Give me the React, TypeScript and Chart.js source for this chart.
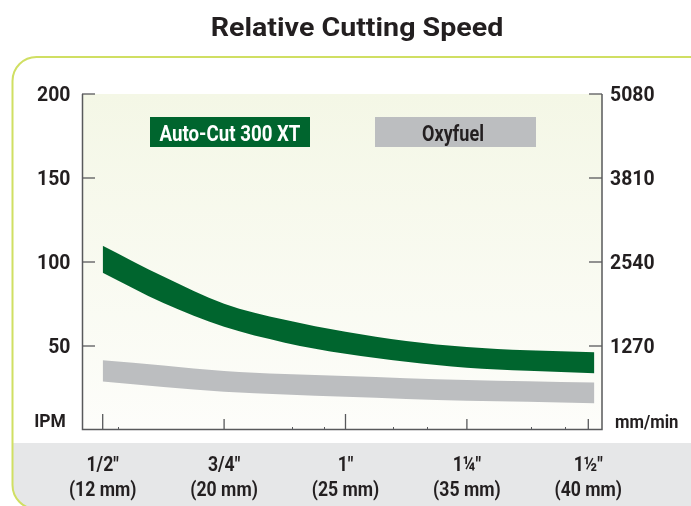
import React, { useEffect, useRef } from "react";
import { Chart, registerables } from "chart.js";

Chart.register(...registerables);

// ---------- data ----------
const chartTitle = "Relative Cutting Speed";
const categories = ['1/2"', '3/4"', '1"', '1¼"', '1½"'];
const categoriesMm = ["(12 mm)", "(20 mm)", "(25 mm)", "(35 mm)", "(40 mm)"];
const bandX = [0, 0.5, 1, 1.5, 2, 2.5, 3, 3.5, 4.05];
const autoCutUpper = [109.7, 91.3, 75.2, 65.6, 58.5, 53.0, 49.4, 47.4, 46.3];
const autoCutLower = [93.6, 75.6, 61.4, 52.0, 45.4, 40.6, 37.0, 35.2, 33.8];
const oxyfuelUpper = [41.5, 38.4, 35.1, 33.3, 32.1, 30.8, 29.8, 29.0, 28.2];
const oxyfuelLower = [28.8, 25.6, 22.8, 21.1, 19.8, 18.5, 17.4, 16.8, 15.9];
const ipmTicks = [50, 100, 150, 200];
const mmMinTicks = [1270, 2540, 3810, 5080];
const minorTickValues = [0.123, 1.558, 1.826, 2.392, 2.673, 3.53, 3.81];
const seriesNames = ["Auto-Cut 300 XT", "Oxyfuel"];
const leftUnit = "IPM";
const rightUnit = "mm/min";

// ---------- styles ----------
const GREEN = "#00652E";
const GREY = "#BCBEC0";
const AXIS = "#58595B";
const TEXT = "#231F20";
const FONT = "Roboto, 'Liberation Sans', sans-serif";
const majorTickLen = [16, 11, 16, 11, 11];

function pts(ys: number[]) {
  return ys.map((y, i) => ({ x: bandX[i], y }));
}

function drawText(
  ctx: CanvasRenderingContext2D,
  text: string,
  x: number,
  y: number,
  font: string,
  color: string,
  align: CanvasTextAlign,
  sx: number
) {
  ctx.save();
  ctx.font = font;
  ctx.fillStyle = color;
  ctx.textBaseline = "alphabetic";
  ctx.textAlign = align;
  ctx.translate(x, y);
  ctx.scale(sx, 1);
  ctx.fillText(text, 0, 0);
  ctx.restore();
}

function roundRectPath(ctx: CanvasRenderingContext2D, x: number, y: number, w: number, h: number, r: number) {
  ctx.beginPath();
  ctx.moveTo(x + r, y);
  ctx.lineTo(x + w - r, y);
  ctx.arcTo(x + w, y, x + w, y + r, r);
  ctx.lineTo(x + w, y + h - r);
  ctx.arcTo(x + w, y + h, x + w - r, y + h, r);
  ctx.lineTo(x + r, y + h);
  ctx.arcTo(x, y + h, x, y + h - r, r);
  ctx.lineTo(x, y + r);
  ctx.arcTo(x, y, x + r, y, r);
  ctx.closePath();
}

const decorPlugin = {
  id: "decor",
  beforeDraw(chart: any) {
    const { ctx, chartArea: a } = chart;
    ctx.save();
    ctx.fillStyle = "#ffffff";
    ctx.fillRect(0, 0, chart.width, chart.height);
    ctx.save();
    roundRectPath(ctx, 12.5, 57, 700, 452, 24);
    ctx.clip();
    ctx.fillStyle = "#E6E7E8";
    ctx.fillRect(0, 443, chart.width, chart.height - 443);
    ctx.restore();
    roundRectPath(ctx, 12.5, 57, 700, 452, 24);
    ctx.strokeStyle = "#D0DF63";
    ctx.lineWidth = 2;
    ctx.stroke();
    const g = ctx.createLinearGradient(0, a.top, 0, a.bottom);
    g.addColorStop(0, "#F4F7E6");
    g.addColorStop(1, "#FDFDFA");
    ctx.fillStyle = g;
    ctx.fillRect(a.left, a.top, a.right - a.left, a.bottom - a.top);
    ctx.restore();
  },
  afterDraw(chart: any) {
    const { ctx, chartArea: a } = chart;
    const xs = chart.scales.x;
    const ys = chart.scales.y;
    const y2 = chart.scales.y2;
    ctx.save();
    ctx.strokeStyle = AXIS;
    ctx.lineWidth = 1.5;
    ctx.beginPath();
    ctx.moveTo(a.left + 0.5, a.top);
    ctx.lineTo(a.left + 0.5, a.bottom - 0.5);
    ctx.lineTo(a.right, a.bottom - 0.5);
    ctx.lineTo(a.right, a.top);
    ctx.stroke();
    ctx.lineWidth = 1.3;
    ipmTicks.forEach((v) => {
      const y = ys.getPixelForValue(v);
      ctx.beginPath();
      ctx.moveTo(a.left, y);
      ctx.lineTo(a.left + 13, y);
      ctx.stroke();
      drawText(ctx, String(v), 70.5, y + 7.4, `bold 20px ${FONT}`, TEXT, "right", 0.97);
    });
    mmMinTicks.forEach((v) => {
      const y = y2.getPixelForValue(v);
      ctx.beginPath();
      ctx.moveTo(a.right - 13, y);
      ctx.lineTo(a.right, y);
      ctx.stroke();
      drawText(ctx, String(v), 610, y + 7.4, `bold 20px ${FONT}`, TEXT, "left", 0.97);
    });
    categories.forEach((c, i) => {
      const x = xs.getPixelForValue(i);
      ctx.beginPath();
      ctx.moveTo(x, a.bottom);
      ctx.lineTo(x, a.bottom - majorTickLen[i]);
      ctx.stroke();
      drawText(ctx, c, x, 471, `bold 21px ${FONT}`, TEXT, "center", 0.84);
      drawText(ctx, categoriesMm[i], x, 495.5, `bold 21px ${FONT}`, TEXT, "center", 0.84);
    });
    ctx.lineWidth = 1;
    minorTickValues.forEach((v) => {
      const x = Math.round(xs.getPixelForValue(v)) + 0.5;
      ctx.beginPath();
      ctx.moveTo(x, a.bottom);
      ctx.lineTo(x, a.bottom - 3);
      ctx.stroke();
    });
    drawText(ctx, leftUnit, 50, 426.5, `bold 19px ${FONT}`, TEXT, "center", 0.92);
    drawText(ctx, rightUnit, 615, 428, `bold 19px ${FONT}`, TEXT, "left", 0.88);
    ctx.fillStyle = GREEN;
    ctx.fillRect(150, 117, 160, 30);
    ctx.fillStyle = GREY;
    ctx.fillRect(375, 117, 161, 30);
    drawText(ctx, seriesNames[0], 230, 141, `bold 22px ${FONT}`, "#FFFFFF", "center", 0.85);
    drawText(ctx, seriesNames[1], 453, 141, `bold 22px ${FONT}`, TEXT, "center", 0.82);
    drawText(ctx, chartTitle, 357, 36, `bold 26px ${FONT}`, TEXT, "center", 1.1);
    ctx.restore();
  },
};

export default function App() {
  const ref = useRef<HTMLCanvasElement | null>(null);
  useEffect(() => {
    if (!ref.current) return;
    const line = (data: number[], fill: any, color: string) => ({
      data: pts(data),
      borderWidth: 0,
      borderColor: color,
      backgroundColor: color,
      pointRadius: 0,
      fill,
      cubicInterpolationMode: "monotone" as const,
    });
    const chart = new Chart(ref.current, {
      type: "line",
      data: {
        datasets: [
          { label: seriesNames[0] + " low", ...line(autoCutLower, false, GREEN) },
          { label: seriesNames[0], ...line(autoCutUpper, "-1", GREEN) },
          { label: seriesNames[1] + " low", ...line(oxyfuelLower, false, GREY) },
          { label: seriesNames[1], ...line(oxyfuelUpper, "-1", GREY) },
        ],
      },
      options: {
        animation: false,
        responsive: false,
        devicePixelRatio: 1,
        layout: { padding: { left: 82, right: 89, top: 94, bottom: 76 } },
        plugins: { legend: { display: false }, title: { display: false }, tooltip: { enabled: false } },
        scales: {
          x: { type: "linear", display: false, min: -0.1705, max: 4.1129 },
          y: { type: "linear", display: false, min: 0, max: 200 },
          y2: { type: "linear", display: false, min: 0, max: 5080, position: "right" },
        },
      },
      plugins: [decorPlugin],
    });
    return () => chart.destroy();
  }, []);
  return (
    <div style={{ position: "fixed", left: 0, top: 0, width: 691, height: 506, background: "#fff" }}>
      <canvas ref={ref} width={691} height={506} style={{ display: "block" }} />
    </div>
  );
}
